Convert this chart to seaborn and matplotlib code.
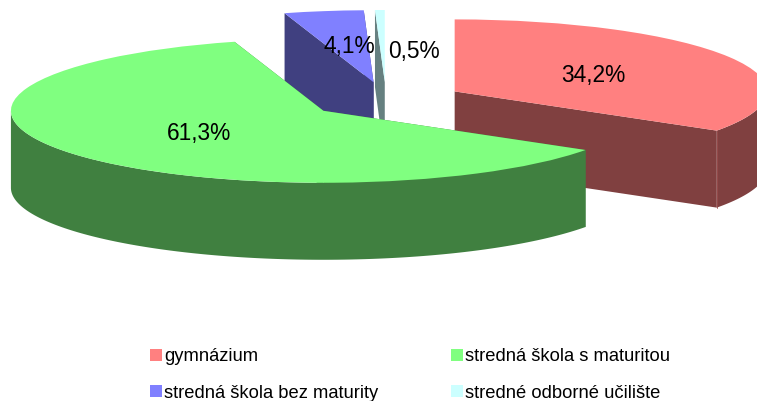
import matplotlib
matplotlib.use("Agg")
import matplotlib.pyplot as plt
import numpy as np
import seaborn as sns

sns.set_theme(style="white")
plt.rcParams['font.family'] = ['Liberation Sans', 'DejaVu Sans']

categories = ['gymnázium', 'stredná škola s maturitou',
              'stredná škola bez maturity', 'stredné odborné učilište']
values = [34.2, 61.3, 4.1, 0.5]
top_colors = ['#FF8080', '#80FF80', '#8080FF', '#CCFFFF']
side_colors = ['#804040', '#408040', '#404080', '#668080']
layers = [3, 4, 1, 2]

W, H = 757, 401
CX, CY = 386.0, 100.0   # pie centre in pixels
RX, RY = 312.5, 72.0    # squashed radius in pixels
DEPTH = 77.0 / RY


def draw_sides(ax, wedge, color, layer):
    cx, cy = wedge.center
    r = wedge.r
    for theta in (wedge.theta1, wedge.theta2):
        x = cx + r * np.cos(np.radians(theta))
        y = cy + r * np.sin(np.radians(theta))
        ax.fill([cx, x, x, cx], [cy, y, y - DEPTH, cy - DEPTH], color=color, lw=0, zorder=layer)

    t = np.radians(np.linspace(wedge.theta1, wedge.theta2, 300))
    t = t[np.sin(t) < 0]
    if len(t) > 0:
        x = cx + r * np.cos(t)
        y = cy + r * np.sin(t)
        ax.fill(np.r_[x, x[::-1]], np.r_[y, y[::-1] - DEPTH], color=color, lw=0, zorder=layer)

    # faint highlight where the cut face meets the rim
    start = np.radians(wedge.theta1)
    if np.sin(start) < 0:
        x = cx + r * np.cos(start)
        y = cy + r * np.sin(start)
        ax.plot([x, x], [y, y - DEPTH], color=sns.set_hls_values(color, l=0.45), lw=0.6,
                zorder=layer + 0.6)


fig = plt.figure(figsize=(W / 100, H / 100), dpi=100)
ax = fig.add_axes([0, 0, 1, 1])
wedges, _ = ax.pie(values, colors=top_colors, startangle=90, counterclock=False,
                   explode=[0.25] * len(values), wedgeprops={'linewidth': 0})

for wedge, side, layer in zip(wedges, side_colors, layers):
    wedge.set_zorder(layer + 0.5)
    draw_sides(ax, wedge, side, layer)

ax.set_aspect('auto')
ax.set_xlim(-CX / RX, (W - CX) / RX)
ax.set_ylim((CY - H) / RY, CY / RY)

label_x = [593.5, 199, 349, 414]
label_y = [75.5, 133.5, 47, 51.5]
for v, x, y in zip(values, label_x, label_y):
    fig.text(x / W, 1 - y / H, f'{v:.1f}'.replace('.', ',') + '%', fontsize=16.4,
             color='black', ha='center', va='center', zorder=10)

# row-first order in a two-column legend
order = [0, 2, 1, 3]
leg = fig.legend([wedges[i] for i in order], [categories[i] for i in order], ncol=2,
                 frameon=False, fontsize=13.2, loc='lower left', bbox_to_anchor=(135 / W, -0.038),
                 handlelength=0.66, handleheight=0.66, handletextpad=0.11,
                 columnspacing=4.0, labelspacing=1.05, borderpad=0.3, labelcolor='black')

fig.savefig('out.png', dpi=100)
